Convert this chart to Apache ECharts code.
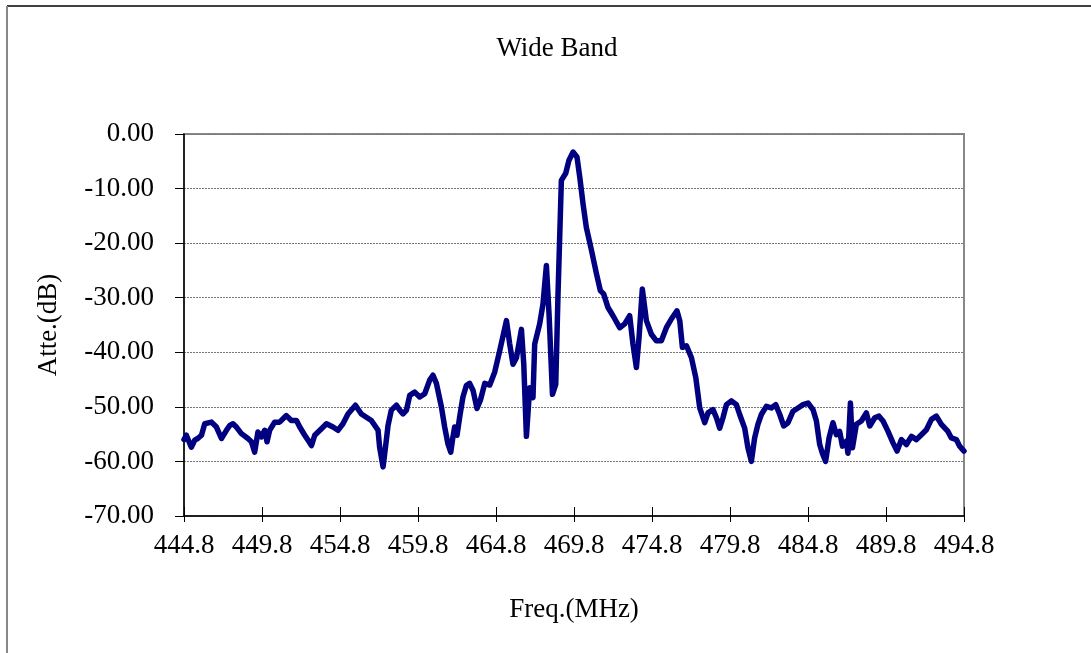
<!DOCTYPE html>
<html style="height: 100%">
<head>
    <meta charset="utf-8">
    <style>
        html, body { margin: 0; padding: 0; background: #fff; }
        #container { width: 1091px; height: 653px; }
    </style>
</head>
<body>
<div id="container"></div>
<script type="text/javascript" src="https://cdn.jsdelivr.net/npm/echarts/dist/echarts.min.js"></script>
<script type="text/javascript">
    // frequency (MHz) and attenuation (dB)
    var freq = [444.8, 444.95, 445.27, 445.49, 445.68, 445.92, 446.13, 446.56, 446.88, 447.2,
        447.52, 447.73, 447.94, 448.16, 448.48, 448.9, 449.12, 449.33, 449.54, 449.76,
        449.97, 450.12, 450.29, 450.61, 450.93, 451.36, 451.68, 452.01, 452.22, 452.54,
        452.75, 452.97, 453.18, 453.61, 453.93, 454.35, 454.67, 454.99, 455.31, 455.79,
        456.17, 456.49, 456.81, 456.92, 457.24, 457.34, 457.56, 457.77, 457.88, 458.09,
        458.42, 458.63, 458.84, 459.06, 459.27, 459.59, 459.91, 460.23, 460.55, 460.76,
        460.98, 461.3, 461.51, 461.72, 461.9, 462.04, 462.15, 462.3, 462.47, 462.68,
        462.9, 463.11, 463.33, 463.58, 463.8, 464.08, 464.4, 464.72, 465.04, 465.47,
        465.68, 465.89, 466.11, 466.43, 466.58, 466.75, 466.96, 467.17, 467.28, 467.6,
        467.81, 468.03, 468.2, 468.42, 468.63, 468.77, 468.99, 469.27, 469.48, 469.74,
        469.99, 470.17, 470.38, 470.59, 470.92, 471.24, 471.49, 471.7, 471.98, 472.3,
        472.73, 473.05, 473.37, 473.58, 473.8, 473.97, 474.18, 474.44, 474.76, 475.08,
        475.4, 475.72, 476.04, 476.4, 476.58, 476.75, 477.01, 477.33, 477.61, 477.86,
        478.18, 478.39, 478.71, 478.93, 479.14, 479.35, 479.57, 479.89, 480.21, 480.42,
        480.74, 480.95, 481.17, 481.38, 481.59, 481.81, 482.13, 482.45, 482.73, 482.99,
        483.24, 483.52, 483.84, 484.16, 484.48, 484.8, 485.12, 485.34, 485.55, 485.72,
        485.93, 486.15, 486.4, 486.62, 486.83, 487.01, 487.26, 487.36, 487.52, 487.65,
        487.9, 488.22, 488.54, 488.76, 489.08, 489.35, 489.61, 489.93, 490.25, 490.51,
        490.79, 491.11, 491.43, 491.75, 492.07, 492.39, 492.71, 493.03, 493.35, 493.77,
        493.99, 494.31, 494.52, 494.8];
    var atte = [-56.0, -55.2, -57.4, -56.1, -55.8, -55.2, -53.1, -52.8, -53.7, -55.8,
        -54.3, -53.4, -53.1, -53.7, -54.9, -55.8, -56.4, -58.3, -54.6, -55.5,
        -54.3, -56.4, -54.3, -52.8, -52.8, -51.6, -52.5, -52.5, -53.7, -55.2,
        -56.1, -57.1, -55.2, -54.0, -53.1, -53.7, -54.3, -53.1, -51.3, -49.7,
        -51.3, -51.9, -52.5, -52.8, -54.3, -57.4, -61.0, -56.1, -53.4, -50.6,
        -49.7, -50.6, -51.3, -50.6, -47.9, -47.3, -48.2, -47.6, -45.1, -44.2,
        -45.7, -50.0, -53.7, -56.8, -58.3, -55.5, -53.7, -55.2, -51.9, -48.2,
        -46.1, -45.7, -47.0, -50.3, -48.8, -45.7, -46.0, -43.6, -39.7, -34.2,
        -38.5, -42.2, -41.0, -35.8, -42.2, -55.4, -46.5, -48.3, -38.5, -34.8,
        -31.2, -24.1, -33.0, -47.7, -45.9, -29.9, -8.5, -7.2, -4.8, -3.3,
        -4.2, -7.9, -12.8, -17.1, -21.3, -25.6, -28.7, -29.3, -31.8, -33.3,
        -35.5, -34.8, -33.3, -38.5, -42.8, -37.3, -28.4, -34.2, -36.7, -37.9,
        -37.9, -35.5, -33.9, -32.4, -34.2, -39.1, -38.8, -41.0, -44.7, -50.2,
        -52.9, -51.1, -50.5, -52.0, -53.9, -52.0, -49.6, -48.9, -49.6, -51.4,
        -53.9, -57.5, -60.0, -55.7, -53.2, -51.4, -49.9, -50.2, -49.6, -51.4,
        -53.5, -52.9, -50.8, -50.2, -49.6, -49.3, -50.5, -52.6, -56.9, -58.5,
        -60.0, -55.7, -52.9, -55.1, -54.5, -57.2, -56.3, -58.5, -49.3, -57.5,
        -53.2, -52.6, -51.1, -53.5, -52.0, -51.7, -52.6, -54.5, -56.6, -58.1,
        -56.0, -56.9, -55.4, -56.0, -55.1, -54.2, -52.3, -51.7, -53.2, -54.5,
        -55.7, -56.0, -57.2, -58.1];

    var xMin = 444.8, xMax = 494.8, xStep = 5;
    var yMin = -70, yMax = 0, yStep = 10;

    var points = [];
    for (var i = 0; i < freq.length; i++) {
        points.push([freq[i], atte[i]]);
    }

    var font = '"Liberation Serif", "DejaVu Serif", serif';

    var dom = document.getElementById("container");
    var myChart = echarts.init(dom);

    var option = {
        animation: false,
        title: {
            text: 'Wide Band',
            left: 552,
            top: 30,
            textAlign: 'center',
            textStyle: {fontFamily: font, fontSize: 27, fontWeight: 'normal', color: '#000'}
        },
        grid: {
            left: 184,
            top: 134,
            right: 127,
            bottom: 137,
            show: true,
            borderColor: '#888',
            borderWidth: 2,
            backgroundColor: '#fff'
        },
        xAxis: [{
            type: 'value',
            min: xMin,
            max: xMax,
            interval: xStep,
            name: 'Freq.(MHz)',
            nameLocation: 'middle',
            nameGap: 80,
            nameTextStyle: {fontFamily: font, fontSize: 27, color: '#000'},
            axisLine: {show: true, onZero: false, lineStyle: {color: '#000', width: 1.5}},
            axisTick: {show: true, length: 6, lineStyle: {color: '#000', width: 1}},
            axisLabel: {
                margin: 16,
                fontFamily: font, fontSize: 27, color: '#000',
                formatter: function (v) { return v.toFixed(1); }
            },
            splitLine: {show: false}
        }, {
            // ticks that poke up into the plot
            type: 'value',
            position: 'bottom',
            min: xMin,
            max: xMax,
            interval: xStep,
            axisLine: {show: false, onZero: false},
            axisTick: {show: true, inside: true, length: 9, lineStyle: {color: '#000', width: 1}},
            axisLabel: {show: false},
            splitLine: {show: false}
        }],
        yAxis: {
            type: 'value',
            min: yMin,
            max: yMax,
            interval: yStep,
            name: 'Atte.(dB)',
            nameLocation: 'middle',
            nameGap: 122,
            nameTextStyle: {fontFamily: font, fontSize: 27, color: '#000'},
            axisLine: {show: true, lineStyle: {color: '#000', width: 1.5}},
            axisTick: {show: true, length: 9, lineStyle: {color: '#000', width: 1}},
            axisLabel: {
                margin: 30,
                fontFamily: font, fontSize: 27, color: '#000',
                formatter: function (v) { return v.toFixed(2); }
            },
            splitLine: {show: true, lineStyle: {color: '#777', width: 1, type: [2, 1]}}
        },
        graphic: [
            {type: 'line', shape: {x1: 7, y1: 6, x2: 1091, y2: 6}, style: {stroke: '#000', lineWidth: 1.5}},
            {type: 'line', shape: {x1: 7, y1: 6, x2: 7, y2: 653}, style: {stroke: '#888', lineWidth: 2}}
        ],
        series: [{
            type: 'line',
            xAxisIndex: 0,
            data: points,
            showSymbol: false,
            smooth: false,
            lineStyle: {color: '#000080', width: 5.5, join: 'round', cap: 'round'},
            z: 3
        }]
    };

    if (option && typeof option === 'object') {
        myChart.setOption(option);
    }
</script>
</body>
</html>
